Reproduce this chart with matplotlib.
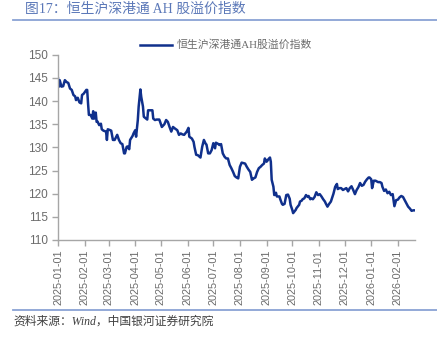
import matplotlib
matplotlib.use("Agg")
import matplotlib.pyplot as plt
import pandas as pd
from matplotlib.lines import Line2D

plt.rcParams['font.family'] = ['Liberation Sans', 'Noto Sans CJK SC', 'DejaVu Sans']

dates = [
    "2025-01-01", "2025-01-02", "2025-01-03", "2025-01-05", "2025-01-07", "2025-01-09", "2025-01-11",
    "2025-01-13", "2025-01-15", "2025-01-17", "2025-01-19", "2025-01-21", "2025-01-22", "2025-01-24",
    "2025-01-26", "2025-01-28", "2025-01-29", "2025-01-31", "2025-02-03", "2025-02-04", "2025-02-05",
    "2025-02-06", "2025-02-08", "2025-02-10", "2025-02-11", "2025-02-12", "2025-02-14", "2025-02-15",
    "2025-02-16", "2025-02-18", "2025-02-20", "2025-02-21", "2025-02-23", "2025-02-26", "2025-02-27",
    "2025-02-28", "2025-03-03", "2025-03-04", "2025-03-06", "2025-03-08", "2025-03-11", "2025-03-13",
    "2025-03-15", "2025-03-17", "2025-03-19", "2025-03-20", "2025-03-22", "2025-03-23", "2025-03-25",
    "2025-03-26", "2025-03-29", "2025-03-30", "2025-04-01", "2025-04-02", "2025-04-04", "2025-04-05",
    "2025-04-07", "2025-04-08", "2025-04-10", "2025-04-11", "2025-04-13", "2025-04-15", "2025-04-16",
    "2025-04-18", "2025-04-21", "2025-04-22", "2025-04-24", "2025-04-26", "2025-04-29", "2025-04-30",
    "2025-05-02", "2025-05-05", "2025-05-07", "2025-05-09", "2025-05-11", "2025-05-13", "2025-05-15",
    "2025-05-17", "2025-05-20", "2025-05-22", "2025-05-24", "2025-05-26", "2025-05-28", "2025-05-31",
    "2025-06-02", "2025-06-03", "2025-06-06", "2025-06-08", "2025-06-09", "2025-06-11", "2025-06-13",
    "2025-06-16", "2025-06-18", "2025-06-20", "2025-06-22", "2025-06-23", "2025-06-25", "2025-06-27",
    "2025-06-29", "2025-07-01", "2025-07-03", "2025-07-04", "2025-07-07", "2025-07-08", "2025-07-10",
    "2025-07-12", "2025-07-14", "2025-07-16", "2025-07-18", "2025-07-20", "2025-07-22", "2025-07-24",
    "2025-07-26", "2025-07-28", "2025-07-30", "2025-08-01", "2025-08-03", "2025-08-05", "2025-08-07",
    "2025-08-09", "2025-08-11", "2025-08-13", "2025-08-15", "2025-08-17", "2025-08-19", "2025-08-21",
    "2025-08-23", "2025-08-25", "2025-08-27", "2025-08-29", "2025-08-30", "2025-09-01", "2025-09-02",
    "2025-09-03", "2025-09-05", "2025-09-06", "2025-09-07", "2025-09-09", "2025-09-10", "2025-09-12",
    "2025-09-13", "2025-09-16", "2025-09-17", "2025-09-19", "2025-09-20", "2025-09-22", "2025-09-24",
    "2025-09-26", "2025-09-28", "2025-09-29", "2025-10-01", "2025-10-02", "2025-10-05", "2025-10-06",
    "2025-10-09", "2025-10-10", "2025-10-12", "2025-10-13", "2025-10-15", "2025-10-17", "2025-10-19",
    "2025-10-20", "2025-10-22", "2025-10-23", "2025-10-25", "2025-10-27", "2025-10-29", "2025-10-31",
    "2025-11-02", "2025-11-04", "2025-11-06", "2025-11-08", "2025-11-09", "2025-11-11", "2025-11-13",
    "2025-11-15", "2025-11-18", "2025-11-20", "2025-11-22", "2025-11-23", "2025-11-25", "2025-11-27",
    "2025-11-29", "2025-12-01", "2025-12-03", "2025-12-05", "2025-12-07", "2025-12-09", "2025-12-11",
    "2025-12-13", "2025-12-15", "2025-12-17", "2025-12-19", "2025-12-21", "2025-12-23", "2025-12-25",
    "2025-12-27", "2025-12-29", "2025-12-30", "2026-01-01", "2026-01-02", "2026-01-04", "2026-01-06",
    "2026-01-09", "2026-01-11", "2026-01-13", "2026-01-14", "2026-01-16", "2026-01-18", "2026-01-20",
    "2026-01-22", "2026-01-24", "2026-01-26", "2026-01-28", "2026-01-30", "2026-02-01", "2026-02-03",
    "2026-02-05", "2026-02-07", "2026-02-09", "2026-02-11", "2026-02-13", "2026-02-15", "2026-02-17",
    "2026-02-19", "2026-02-21",
]
values = [
    144.9, 143.1, 144.5, 143.1, 143.2, 144.5, 144.1,
    143.9, 142.7, 142.4, 141.3, 141.0, 140.2, 140.7,
    139.7, 139.5, 141.3, 141.6, 142.4, 142.4, 139.5,
    137.0, 137.0, 136.2, 137.8, 136.2, 137.5, 135.5,
    135.6, 134.8, 135.1, 133.9, 133.6, 133.4, 131.6,
    133.9, 133.7, 133.6, 131.6, 131.6, 132.7, 131.6,
    130.9, 130.7, 128.7, 128.7, 130.1, 130.2, 129.6,
    131.6, 132.5, 133.0, 133.7, 132.3, 135.9, 138.8,
    142.5, 140.9, 138.8, 136.6, 136.3, 136.0, 138.0,
    138.0, 138.0, 136.2, 135.9, 136.0, 136.0, 135.5,
    134.4, 135.0, 135.9, 135.5, 134.4, 133.4, 134.4,
    134.1, 133.7, 132.7, 133.0, 132.8, 132.7, 133.4,
    134.2, 132.3, 131.9, 131.2, 130.1, 128.4, 128.3,
    127.8, 130.1, 131.6, 130.8, 130.6, 128.7, 128.7,
    129.4, 130.9, 129.8, 131.0, 130.7, 130.5, 130.7,
    128.7, 128.0, 127.6, 127.6, 126.2, 125.5, 124.7,
    123.8, 123.5, 123.3, 125.8, 126.7, 126.6, 126.5,
    125.8, 125.2, 124.7, 123.0, 123.3, 123.5, 124.7,
    125.5, 125.8, 126.2, 126.5, 127.6, 126.9, 127.1,
    127.4, 127.8, 126.9, 123.0, 121.5, 119.7, 120.2,
    119.4, 119.4, 118.8, 117.8, 117.6, 117.8, 119.7,
    119.8, 118.9, 117.6, 116.5, 115.8, 116.5, 116.9,
    117.6, 118.3, 118.5, 118.8, 119.0, 119.7, 119.3,
    119.5, 118.8, 119.0, 118.8, 119.3, 120.3, 119.7,
    119.9, 119.4, 118.8, 118.3, 117.9, 117.2, 117.8,
    118.3, 120.0, 121.5, 122.1, 121.0, 121.2, 121.2,
    120.8, 121.0, 121.2, 120.5, 121.2, 121.6, 120.8,
    119.9, 120.8, 121.4, 122.3, 121.7, 121.9, 122.6,
    123.1, 123.5, 123.5, 123.1, 121.2, 122.8, 122.8,
    122.5, 122.5, 122.3, 121.5, 120.6, 120.9, 120.1,
    120.4, 119.7, 119.9, 117.3, 118.6, 118.7, 119.2,
    119.5, 119.3, 118.6, 117.9, 117.2, 116.8, 116.3,
    116.4, 116.4,
]
series_name = "恒生沪深港通AH股溢价指数"
title_text = "图17：恒生沪深港通 AH 股溢价指数"
source_text = "资料来源：Wind，中国银河证券研究院"
y_ticks = [110, 115, 120, 125, 130, 135, 140, 145, 150]
x_ticks = pd.date_range("2025-01-01", "2026-02-01", freq="MS")

x = pd.to_datetime(dates)

fig = plt.figure(figsize=(4.37, 3.40), dpi=100)
ax = fig.add_axes([58/437, 1-240/340, (415-58)/437, (240-54.7)/340])

line_color = "#10308c"
ax.plot(x, values, color=line_color, lw=1.8, label=series_name)

ax.set_ylim(110, 150)
ax.set_yticks(y_ticks)
ax.set_xlim(x[0], x[-1])
ax.set_xticks(x_ticks)
ax.set_xticklabels([d.strftime("%Y-%m-%d") for d in x_ticks], rotation=90)

grey = "#6b6b6b"
for s in ["top", "right"]:
    ax.spines[s].set_visible(False)
for s in ["left", "bottom"]:
    ax.spines[s].set_color("#a6a6a6")
    ax.spines[s].set_linewidth(1.0)
ax.tick_params(axis="both", colors="#a6a6a6", labelcolor=grey, length=4, width=1.0)
ax.tick_params(axis="y", labelsize=8.5, pad=3)
ax.tick_params(axis="x", labelsize=7.8, pad=3)

leg = ax.legend(handles=[Line2D([], [], color=line_color, lw=1.8)], labels=[series_name],
                loc="center", bbox_to_anchor=(226/437, 1-45/340), bbox_transform=fig.transFigure,
                frameon=False, handlelength=3.0, handletextpad=0.4,
                prop={"family": ["Liberation Serif", "Noto Sans CJK SC", "DejaVu Sans"], "size": 7.8})
for t in leg.get_texts():
    t.set_color(grey)

fig.text(25/437, 1-9/340, title_text, color="#5b78b8", fontsize=10, va="center", ha="left",
         family=["Liberation Serif", "Noto Sans CJK SC", "DejaVu Sans"])
fig.add_artist(Line2D([13/437, 1.0], [1-19.5/340, 1-19.5/340], color="#8aa2d4", lw=1.3))
fig.add_artist(Line2D([13/437, 1.0], [1-310/340, 1-310/340], color="#8aa2d4", lw=1.3))
fig.text(13/437, 1-322/340, source_text, color="#404040", fontsize=8.5, va="center", ha="left",
         family=["Liberation Serif", "Noto Sans CJK SC", "DejaVu Sans"], style="italic")

fig.savefig("out.png", dpi=100)
